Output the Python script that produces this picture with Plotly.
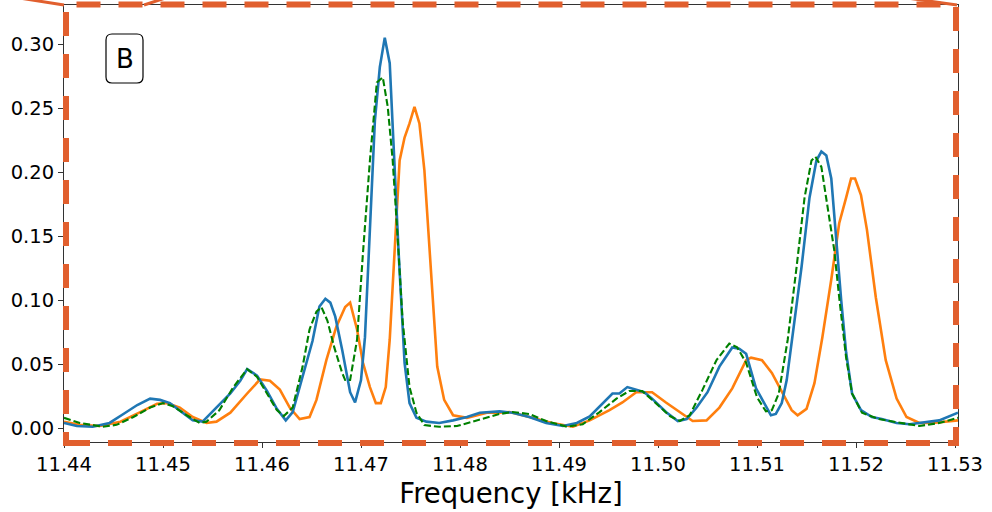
import plotly.graph_objects as go

# ---------------- data ----------------
blue_f = [11.4400, 11.4413, 11.4429, 11.4446, 11.4460, 11.4474, 11.4487, 11.4497, 11.4507, 11.4520,
          11.4530, 11.4540, 11.4554, 11.4568, 11.4578, 11.4585, 11.4595, 11.4605, 11.4615, 11.4624,
          11.4631, 11.4641, 11.4651, 11.4658, 11.4664, 11.4669, 11.4674, 11.4681, 11.4689, 11.4694,
          11.4700, 11.4704, 11.4709, 11.4714, 11.4719, 11.4724, 11.4729, 11.4733, 11.4738, 11.4744,
          11.4749, 11.4756, 11.4766, 11.4779, 11.4793, 11.4807, 11.4820, 11.4840, 11.4853, 11.4870,
          11.4887, 11.4904, 11.4918, 11.4931, 11.4944, 11.4954, 11.4961, 11.4969, 11.4978, 11.4986,
          11.4994, 11.5008, 11.5020, 11.5029, 11.5039, 11.5050, 11.5062, 11.5075, 11.5082, 11.5089,
          11.5099, 11.5107, 11.5114, 11.5119, 11.5125, 11.5130, 11.5136, 11.5145, 11.5153, 11.5160,
          11.5165, 11.5170, 11.5175, 11.5180, 11.5185, 11.5190, 11.5196, 11.5205, 11.5216, 11.5226,
          11.5241, 11.5254, 11.5266, 11.5284, 11.5303]
blue_v = [0.004, 0.0016, 0.001, 0.004, 0.011, 0.018, 0.023, 0.022, 0.0195, 0.012,
          0.006, 0.005, 0.016, 0.027, 0.037, 0.046, 0.041, 0.029, 0.015, 0.006,
          0.0125, 0.040, 0.068, 0.095, 0.101, 0.098, 0.087, 0.061, 0.028, 0.020,
          0.0375, 0.071, 0.162, 0.240, 0.282, 0.305, 0.285, 0.215, 0.137, 0.051,
          0.0195, 0.008, 0.005, 0.004, 0.006, 0.0086, 0.012, 0.013, 0.012, 0.0086,
          0.004, 0.0016, 0.004, 0.009, 0.0195, 0.027, 0.027, 0.032, 0.030, 0.028,
          0.023, 0.0125, 0.0055, 0.007, 0.016, 0.028, 0.048, 0.063, 0.062, 0.058,
          0.031, 0.0195, 0.010, 0.011, 0.0195, 0.0375, 0.074, 0.126, 0.180, 0.209,
          0.216, 0.213, 0.195, 0.147, 0.100, 0.059, 0.027, 0.014, 0.0086, 0.007,
          0.004, 0.003, 0.004, 0.006, 0.012]

orange_f = [11.4400, 11.4416, 11.4436, 11.4457, 11.4477, 11.4494, 11.4504, 11.4517, 11.4530, 11.4544,
            11.4554, 11.4568, 11.4585, 11.4598, 11.4608, 11.4618, 11.4628, 11.4638, 11.4648, 11.4655,
            11.4665, 11.4675, 11.4684, 11.4689, 11.4696, 11.4702, 11.4709, 11.4715, 11.4720, 11.4725,
            11.4729, 11.4734, 11.4739, 11.4744, 11.4749, 11.4754, 11.4759, 11.4764, 11.4771, 11.4777,
            11.4784, 11.4793, 11.4807, 11.4827, 11.4840, 11.4850, 11.4870, 11.4893, 11.4914, 11.4931,
            11.4951, 11.4964, 11.4978, 11.4994, 11.5008, 11.5022, 11.5035, 11.5049, 11.5062, 11.5075,
            11.5089, 11.5094, 11.5105, 11.5115, 11.5126, 11.5135, 11.5141, 11.5150, 11.5158, 11.5166,
            11.5175, 11.5183, 11.5190, 11.5195, 11.5199, 11.5205, 11.5211, 11.5220, 11.5230, 11.5241,
            11.5251, 11.5264, 11.5277, 11.5294, 11.5303]
orange_v = [0.005, 0.0025, 0.0016, 0.005, 0.0125, 0.019, 0.0195, 0.016, 0.0086, 0.004,
            0.005, 0.012, 0.027, 0.038, 0.037, 0.030, 0.016, 0.007, 0.0086, 0.022,
            0.053, 0.079, 0.0945, 0.098, 0.077, 0.051, 0.032, 0.0195, 0.0195, 0.032,
            0.069, 0.137, 0.209, 0.227, 0.238, 0.251, 0.238, 0.2016, 0.123, 0.048,
            0.022, 0.010, 0.008, 0.012, 0.012, 0.0125, 0.0086, 0.004, 0.001, 0.006,
            0.014, 0.020, 0.028, 0.028, 0.020, 0.0125, 0.0055, 0.006, 0.016, 0.031,
            0.053, 0.055, 0.053, 0.043, 0.027, 0.014, 0.010, 0.015, 0.035, 0.071,
            0.116, 0.160, 0.180, 0.195, 0.195, 0.182, 0.155, 0.102, 0.053, 0.023,
            0.0086, 0.004, 0.004, 0.005, 0.006]

green_f = [11.4400, 11.4416, 11.4439, 11.4453, 11.4470, 11.4487, 11.4500, 11.4510, 11.4524, 11.4537,
           11.4544, 11.4557, 11.4571, 11.4585, 11.4595, 11.4605, 11.4615, 11.4622, 11.4631, 11.4641,
           11.4648, 11.4655, 11.4660, 11.4666, 11.4673, 11.4681, 11.4684, 11.4689, 11.4696, 11.4702,
           11.4709, 11.4716, 11.4722, 11.4727, 11.4732, 11.4737, 11.4742, 11.4749, 11.4756, 11.4764,
           11.4779, 11.4797, 11.4813, 11.4830, 11.4840, 11.4853, 11.4870, 11.4887, 11.4908, 11.4924,
           11.4941, 11.4958, 11.4971, 11.4984, 11.4998, 11.5012, 11.5022, 11.5032, 11.5045, 11.5059,
           11.5072, 11.5080, 11.5089, 11.5100, 11.5109, 11.5115, 11.5122, 11.5131, 11.5140, 11.5148,
           11.5155, 11.5159, 11.5165, 11.5171, 11.5178, 11.5183, 11.5190, 11.5196, 11.5206, 11.5223,
           11.5244, 11.5264, 11.5284, 11.5303]
green_v = [0.008, 0.004, 0.001, 0.0025, 0.0086, 0.016, 0.0195, 0.017, 0.010, 0.004,
           0.005, 0.014, 0.032, 0.046, 0.040, 0.027, 0.014, 0.0094, 0.016, 0.048,
           0.077, 0.091, 0.0945, 0.084, 0.063, 0.043, 0.0375, 0.0375, 0.069, 0.137,
           0.209, 0.270, 0.274, 0.251, 0.209, 0.149, 0.084, 0.032, 0.012, 0.0023,
           0.001, 0.0016, 0.005, 0.0086, 0.011, 0.0125, 0.011, 0.0055, 0.001, 0.003,
           0.0125, 0.023, 0.029, 0.029, 0.0195, 0.0094, 0.0055, 0.010, 0.030, 0.053,
           0.066, 0.063, 0.051, 0.024, 0.013, 0.014, 0.027, 0.069, 0.126, 0.180,
           0.209, 0.212, 0.204, 0.173, 0.139, 0.102, 0.055, 0.027, 0.012, 0.007,
           0.004, 0.0016, 0.004, 0.008]

x_ticks = [11.44, 11.45, 11.46, 11.47, 11.48, 11.49, 11.50, 11.51, 11.52, 11.53]
x_tick_labels = ["11.44", "11.45", "11.46", "11.47", "11.48", "11.49", "11.50", "11.51", "11.52", "11.53"]
y_ticks = [0.00, 0.05, 0.10, 0.15, 0.20, 0.25, 0.30]
y_tick_labels = ["0.00", "0.05", "0.10", "0.15", "0.20", "0.25", "0.30"]
x_title = "Frequency [kHz]"
panel_label = "B"

# ---------------- layout geometry ----------------
W, H = 992, 512
L, R, T, B = 64, 958, 5, 442  # plot area in pixels
FONT = "DejaVu Sans"
ORANGE_BOX = "#e15f2e"


def px(x):
    return (x - L) / (R - L)


def py(y):
    return (B - y) / (B - T)


fig = go.Figure()
fig.add_trace(go.Scatter(x=orange_f, y=orange_v, mode="lines",
                         line=dict(color="#ff7f0e", width=2.6), showlegend=False))
fig.add_trace(go.Scatter(x=blue_f, y=blue_v, mode="lines",
                         line=dict(color="#1f77b4", width=2.6), showlegend=False))
fig.add_trace(go.Scatter(x=green_f, y=green_v, mode="lines",
                         line=dict(color="#008000", width=2.1, dash="7px,3px"), showlegend=False))

shapes = []
# dashed zoom-indicator rectangle
shapes.append(dict(type="rect", xref="paper", yref="paper",
                   x0=px(66), x1=px(956), y0=py(443), y1=py(4.5),
                   line=dict(color=ORANGE_BOX, width=6, dash="24px,18px"),
                   fillcolor="rgba(0,0,0,0)", layer="above"))
# connector lines leaving the figure at the top
for (xa, ya, xb, yb) in [(64, 5, -10, -6.6), (144, 5, 170, -3.5), (957, 5, 900, -3)]:
    shapes.append(dict(type="line", xref="paper", yref="paper",
                       x0=px(xa), y0=py(ya), x1=px(xb), y1=py(yb),
                       line=dict(color=ORANGE_BOX, width=3), layer="above"))

# rounded box around panel label
bx0, bx1, by0, by1, rr = 106, 143, 34, 83, 6
path = (f"M {px(bx0 + rr)},{py(by0)} L {px(bx1 - rr)},{py(by0)} "
        f"Q {px(bx1)},{py(by0)} {px(bx1)},{py(by0 + rr)} "
        f"L {px(bx1)},{py(by1 - rr)} Q {px(bx1)},{py(by1)} {px(bx1 - rr)},{py(by1)} "
        f"L {px(bx0 + rr)},{py(by1)} Q {px(bx0)},{py(by1)} {px(bx0)},{py(by1 - rr)} "
        f"L {px(bx0)},{py(by0 + rr)} Q {px(bx0)},{py(by0)} {px(bx0 + rr)},{py(by0)} Z")
shapes.append(dict(type="path", xref="paper", yref="paper", path=path,
                   line=dict(color="black", width=1.2), fillcolor="white", layer="above"))

fig.update_layout(
    width=W, height=H,
    margin=dict(l=L, r=W - R, t=T, b=H - B, pad=0),
    paper_bgcolor="white", plot_bgcolor="white",
    font=dict(family=FONT, size=19.5, color="black"),
    shapes=shapes,
    annotations=[dict(text=panel_label, xref="paper", yref="paper",
                      x=px(124.5), y=py(58.5), xanchor="center", yanchor="middle",
                      showarrow=False, font=dict(family=FONT, size=26, color="black"))],
)
fig.update_xaxes(range=[11.44, 11.5303], tickmode="array", tickvals=x_ticks, ticktext=x_tick_labels,
                 ticks="outside", ticklen=5, tickwidth=1, tickcolor="#333",
                 showline=True, linecolor="#333", linewidth=1, mirror=True,
                 showgrid=False, zeroline=False,
                 title=dict(text=x_title, font=dict(family=FONT, size=27.5), standoff=8))
fig.update_yaxes(range=[-0.0109, 0.3305], tickmode="array", tickvals=y_ticks, ticktext=y_tick_labels,
                 ticks="outside", ticklen=5, tickwidth=1, tickcolor="#333",
                 showline=True, linecolor="#333", linewidth=1, mirror=True,
                 showgrid=False, zeroline=False)

fig.write_html("out.html")
